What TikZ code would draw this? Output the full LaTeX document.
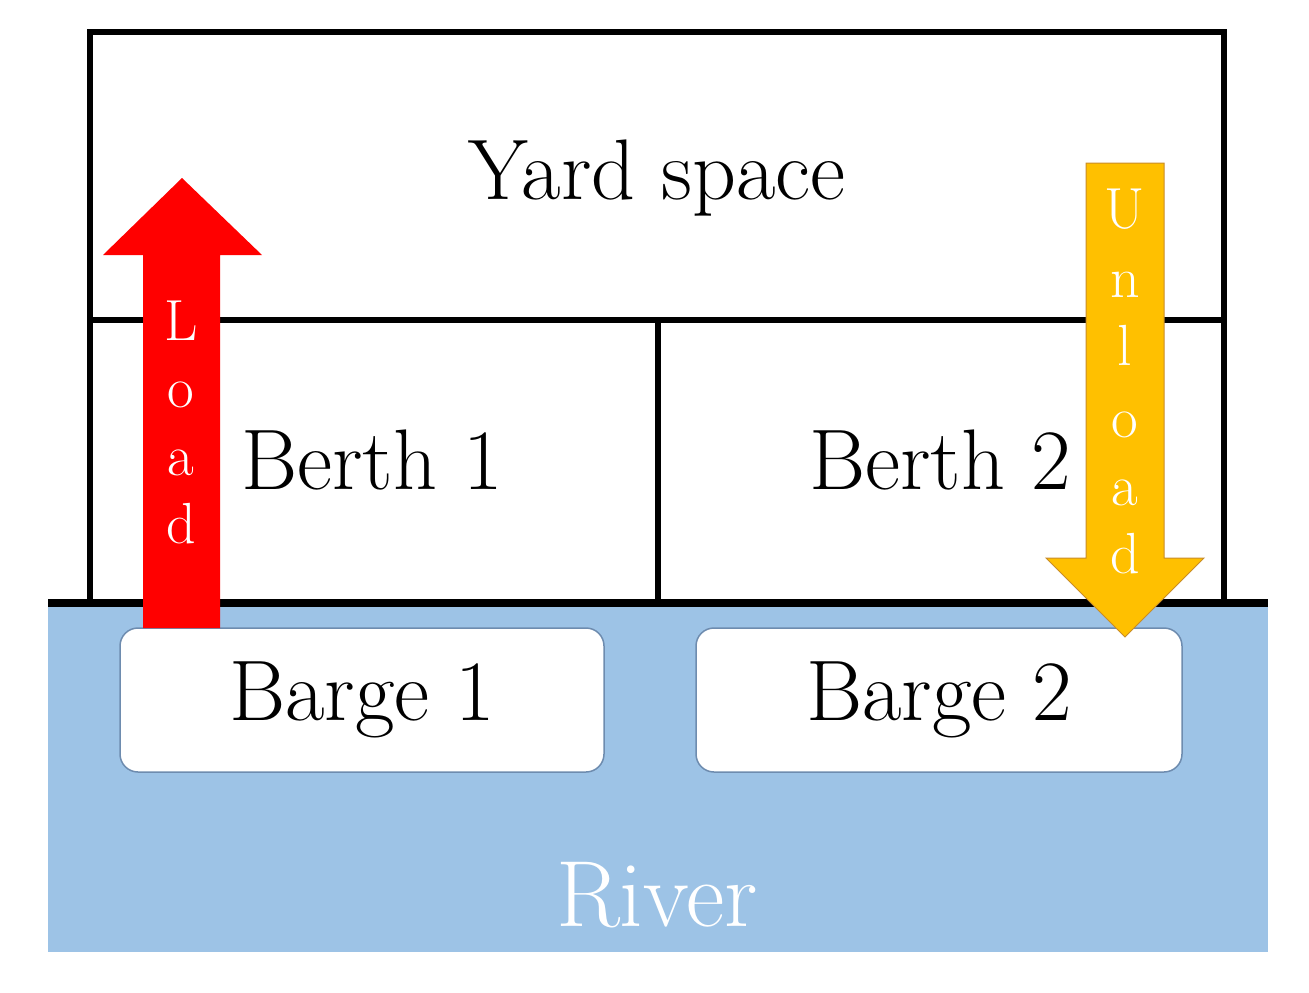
\documentclass[tikz,border=0pt]{standalone}
\usepackage{fontspec}
\begin{document}
\begin{tikzpicture}[x=1pt,y=-1pt,
  lbl/.style={font=\fontsize{86}{90}\selectfont,inner sep=0pt},
  let/.style={font=\fontsize{58}{60}\selectfont,inner sep=0pt,anchor=base},
  barge/.style={draw={rgb,255:red,110;green,140;blue,175},line width=1.5pt,fill=white,rounded corners=18pt}]
\useasboundingbox (0,0) rectangle (1309,993);
\fill[fill={rgb,255:red,157;green,195;blue,230}] (48,603) rectangle (1268,952);
\draw[line width=6pt] (90,603) -- (90,32) -- (1224,32) -- (1224,603);
\draw[line width=6pt] (90,320) -- (1224,320);
\draw[line width=6pt] (658,320) -- (658,603);
\draw[line width=8pt] (48,603) -- (1268,603);
\node[barge,minimum width=484pt,minimum height=144pt] (b1) at (362,700) {};
\node[barge,minimum width=486pt,minimum height=144pt] (b2) at (939,700) {};
\node[lbl] at (b1) {Barge 1};
\node[lbl] at (b2) {Barge 2};
\node[lbl] (yard) at (657,178) {Yard space};
\node[lbl] (berth1) at (372,460) {Berth 1};
\node[lbl] (berth2) at (940,460) {Berth 2};
\node[lbl,font=\fontsize{94}{96}\selectfont,text=white] (river) at (657,895) {River};
% Load arrow
\fill[red] (143,628) -- (143,255) -- (103,255) -- (182,178) -- (262,255) -- (220,255) -- (220,628) -- cycle;
\foreach \c/\y in {L/340,o/407,a/475,d/543} \node[let,text=white] at (181,\y) {\c};
% Unload arrow
\filldraw[fill={rgb,255:red,255;green,192;blue,0},draw={rgb,255:red,200;green,140;blue,40},line width=1pt]
  (1086,163) -- (1164,163) -- (1164,558) -- (1204,558) -- (1125,637) -- (1046,558) -- (1086,558) -- cycle;
\foreach \c/\y in {U/228,n/297,l/365,o/437,a/505,d/573} \node[let,text=white] at (1125,\y) {\c};
\end{tikzpicture}
\end{document}
